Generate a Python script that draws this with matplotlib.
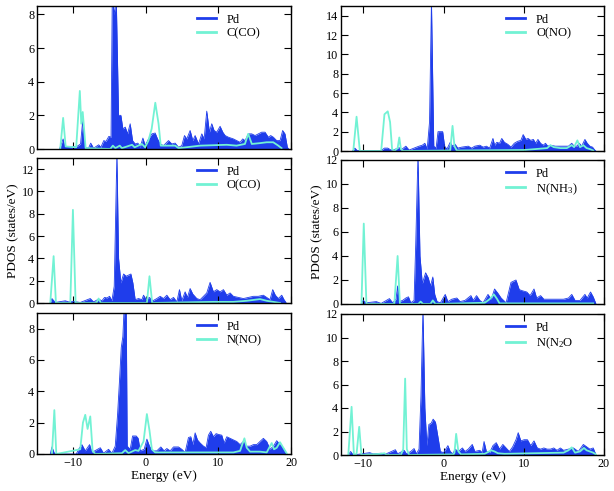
import matplotlib
matplotlib.use('Agg')
import matplotlib.pyplot as plt
import numpy as np

plt.rcParams['font.family'] = ['Liberation Serif', 'DejaVu Serif']
plt.rcParams['mathtext.default'] = 'regular'

# ---- panel data: energy (eV) / PDOS (states/eV) ----
# top-left: Pd + C(CO)
pd_e_1 = [-11.9, -11.4, -11.2, -9.5, -9.0, -8.7, -8.4, -7.9, -7.6, -7.2, -6.5, -6.2, -5.8, -5.5, -5.1,
          -4.8, -4.63, -4.36, -4.08, -3.76, -3.44, -3.17, -2.84, -2.52, -2.16, -1.83, -1.47, -1.1, -0.78,
          -0.41, -0.09, 0.37, 0.83, 1.28, 1.61, 1.97, 2.43, 3.12, 3.58, 4.04, 4.5, 4.95, 5.32, 5.64, 6.1,
          6.47, 6.79, 7.25, 7.71, 8.03, 8.39, 8.76, 9.08, 9.4, 9.77, 10.23, 10.6, 10.92, 11.38, 12.06,
          12.52, 12.98, 13.35, 13.67, 14.13, 14.59, 15.05, 15.5, 15.96, 16.42, 16.88, 17.2, 17.57, 18.03,
          18.49, 18.85, 19.17, 19.5, 19.68]
pd_v_1 = [0, 0.6, 0.15, 0.15, 0.3, 1.7, 0.1, 0.05, 0.35, 0.05, 0.25, 0.1, 0.5, 0.45, 0.75,
          0.7, 9.0, 8.0, 9.0, 2.0, 2.0, 1.2, 1.3, 0.9, 1.5, 0.5, 0.3, 0.35, 0.1,
          0.65, 0.2, 0.6, 0.9, 0.95, 0.6, 0.3, 0.2, 0.5, 0.3, 0.35, 0.1, 0.2, 0.8, 0.6, 1.1,
          0.5, 0.8, 0.3, 0.9, 0.6, 2.25, 1.0, 1.5, 1.1, 1.0, 1.35, 1.0, 0.8, 0.7, 0.6,
          0.5, 0.4, 0.6, 0.5, 0.9, 0.9, 0.8, 0.9, 1.0, 1.0, 0.7, 0.8, 0.7, 0.5,
          0.5, 1.1, 0.9, 0.1, 0]
lg_e_1 = [-11.8, -11.4, -11.05, -9.6, -9.1, -8.9, -8.7, -8.3, -4.9, -4.55, -4.2, -3.6, -3.3, -1.9,
          -1.55, -0.55, -0.1, 0.35, 0.8, 1.3, 1.75, 2.05, 2.45, 4.05, 4.5, 7.5, 11.15, 12.5, 13.65,
          14.1, 14.6, 15.75, 16.65, 17.55, 18.25, 18.7]
lg_v_1 = [0, 1.85, 0.15, 0.1, 3.45, 1.5, 2.2, 0.05, 0.0, 0.2, 0.05, 0.2, 0.05, 0.25,
          0.1, 0.3, 0.1, 0.5, 1.2, 2.75, 1.5, 0.2, 0.2, 0.2, 0.05, 0.2, 0.25, 0.2, 0.3,
          0.9, 0.3, 0.35, 0.4, 0.4, 0.2, 0.05]

# top-right: Pd + O(NO)
pd_e_2 = [-11.35, -11.07, -10.78, -7.79, -7.38, -6.97, -6.56, -6.15, -5.53, -5.33, -4.71, -4.3, -3.69,
          -3.07, -2.66, -2.34, -2.05, -1.76, -1.52, -1.23, -0.94, -0.7, -0.12, 0.12, 0.41, 0.82, 1.11,
          1.43, 1.76, 2.25, 3.07, 3.48, 3.89, 4.51, 4.92, 5.33, 5.74, 6.15, 6.35, 6.64, 6.97, 7.25,
          7.58, 7.99, 8.4, 8.81, 9.22, 9.63, 9.92, 10.25, 10.53, 10.86, 11.19, 11.48, 11.76, 12.09,
          12.42, 12.7, 12.99, 13.32, 13.93, 14.55, 15.16, 15.57, 15.98, 16.27, 16.6, 16.93, 17.21,
          17.62, 17.91, 18.24, 18.57, 18.85, 18.98]
pd_v_2 = [0, 0.3, 0.05, 0.05, 0.3, 0.3, 0.1, 0.15, 0.35, 0.1, 0.5, 0.1, 0.3,
          0.5, 0.6, 0.8, 0.2, 3.0, 15.5, 0.5, 0.3, 2.0, 2.0, 0.5, 0.2, 0.9, 0.5,
          0.7, 0.3, 0.4, 0.5, 0.3, 0.5, 0.6, 0.4, 0.5, 0.3, 1.3, 0.6, 0.9, 0.8, 1.3,
          0.9, 0.7, 0.4, 0.8, 1.0, 1.1, 1.7, 1.2, 1.3, 1.1, 1.2, 0.8, 1.2, 0.8,
          0.6, 0.8, 0.5, 0.6, 0.5, 0.5, 0.5, 0.5, 0.8, 0.5, 0.5, 0.8, 0.5,
          1.2, 0.8, 0.5, 0.4, 0.1, 0]
lg_e_2 = [-11.27, -10.86, -10.45, -7.79, -7.38, -6.97, -6.68, -6.43, -6.15, -5.74, -5.53, -5.33, -5.04,
          0.82, 1.11, 1.35, 1.64, 10.04, 12.91, 13.32, 13.73, 14.55, 15.37, 15.98, 16.27, 16.68,
          17.01, 17.42, 17.83, 18.24, 18.65]
lg_v_2 = [0, 3.55, 0, 0, 3.8, 4.1, 3.0, 0.2, 0, 0.3, 1.4, 0.2, 0,
          0.05, 2.6, 0.5, 0.05, 0.1, 0.3, 0.6, 0.4, 0.3, 0.3, 0.6, 0.4, 1.1,
          0.4, 0.6, 0.3, 0.2, 0.05]

# middle-left: Pd + O(CO)
pd_e_3 = [-13.17, -12.94, -12.48, -11.1, -10.64, -10.05, -9.04, -7.66, -7.2, -6.51, -6.06, -5.69,
          -5.37, -5.0, -4.68, -4.36, -4.22, -3.99, -3.76, -3.44, -3.07, -2.71, -2.39, -2.06, -1.79,
          -1.47, -1.01, -0.55, -0.32, 0.05, 0.5, 0.96, 1.51, 1.97, 2.43, 2.89, 3.35, 3.81, 4.27, 4.63,
          4.95, 5.41, 5.73, 6.1, 6.47, 7.02, 7.48, 7.94, 8.39, 8.85, 9.31, 9.77, 10.23, 10.69, 11.15,
          11.61, 12.06, 12.75, 13.44, 14.13, 14.82, 15.5, 16.19, 16.65, 17.11, 17.48, 17.84, 18.26,
          18.72, 19.04, 19.31]
pd_v_3 = [0, 0.4, 0.05, 0.2, 0.1, 0.15, 0.05, 0.4, 0.1, 0.35, 0.2, 0.5,
          0.45, 0.6, 0.2, 1.5, 6.0, 13.5, 4.0, 1.8, 2.6, 2.4, 2.5, 2.6, 1.8,
          0.3, 0.4, 0.3, 0.7, 0.3, 0.5, 0.2, 0.4, 0.6, 0.4, 0.7, 0.3, 0.5, 0.1, 1.2,
          0.2, 1.0, 0.5, 1.3, 0.8, 0.4, 0.3, 0.6, 0.9, 1.85, 1.0, 1.2, 1.0, 1.2, 0.7,
          0.9, 0.6, 0.5, 0.4, 0.5, 0.6, 0.6, 0.7, 0.5, 0.3, 1.2, 0.7, 0.4,
          0.7, 0.3, 0.05]
lg_e_3 = [-13.17, -12.71, -12.39, -10.41, -10.05, -9.68, -6.83, -6.51, -6.19, 0.14, 0.5, 0.87,
          9.31, 12.06, 13.9, 15.73, 16.65, 17.57, 18.49]
lg_v_3 = [0, 4.2, 0, 0, 8.35, 0, 0, 0.4, 0, 0, 2.4, 0,
          0.1, 0.1, 0.2, 0.35, 0.2, 0.1, 0.0]

# middle-right: Pd + N(NH3)
pd_e_4 = [-10.25, -10.04, -9.63, -9.02, -8.4, -7.79, -6.76, -6.35, -5.94, -5.74, -5.53, -5.12, -4.71,
          -4.39, -4.1, -3.69, -3.48, -3.2, -2.95, -2.66, -2.25, -1.93, -1.64, -1.35, -1.11, -0.82,
          -0.41, 0.2, 0.53, 1.02, 1.64, 2.05, 2.66, 3.4, 3.69, 4.1, 4.51, 4.92, 5.53, 5.94, 6.35,
          6.76, 7.17, 7.79, 8.4, 9.02, 9.43, 9.84, 10.37, 10.78, 11.27, 11.6, 12.09, 12.5, 13.32,
          14.14, 14.96, 15.57, 15.98, 16.39, 17.01, 17.62, 17.91, 18.32, 18.65, 18.98]
pd_v_4 = [0, 0.3, 0.1, 0.15, 0.2, 0.05, 0.45, 0.1, 0.4, 1.5, 0.2, 0.3, 0.5,
          0.6, 0.1, 0.3, 5.0, 12.5, 4.0, 1.7, 2.6, 2.2, 1.5, 2.25, 0.8, 0.2,
          0.1, 0.8, 0.2, 0.4, 0.5, 0.2, 0.3, 0.7, 0.3, 0.7, 0.3, 0.1, 0.8, 0.4, 1.25,
          0.9, 0.5, 0.1, 1.8, 2.0, 1.2, 1.1, 1.0, 0.7, 1.25, 0.5, 0.7, 0.4, 0.4,
          0.4, 0.4, 0.5, 0.8, 0.3, 0.3, 0.8, 0.5, 1.0, 0.6, 0.05]
lg_e_4 = [-10.25, -9.96, -9.63, -6.15, -5.74, -5.45, -3.16, -2.87, -2.58, -1.64, -1.35, -1.02,
          5.12, 5.74, 6.27, 6.68, 6.97, 18.65]
lg_v_4 = [0, 6.7, 0, 0, 4.0, 0, 0, 0.2, 0, 0, 0.3, 0,
          0.1, 0.4, 0.8, 0.4, 0.05, 0.05]

# bottom-left: Pd + N(NO)
pd_e_5 = [-13.17, -12.94, -12.57, -9.59, -9.27, -8.81, -8.35, -7.75, -7.43, -6.28, -5.83, -5.14,
          -4.68, -4.22, -3.9, -3.62, -3.39, -3.17, -2.98, -2.71, -2.57, -2.16, -1.83, -1.33, -1.06,
          -0.78, -0.23, 0.14, 0.5, 0.96, 1.51, 2.06, 2.52, 2.89, 3.35, 3.81, 4.5, 4.95, 5.41, 5.87,
          6.19, 6.47, 6.79, 7.11, 7.48, 7.94, 8.3, 8.62, 8.94, 9.31, 9.68, 10.0, 10.46, 10.78, 11.15,
          11.61, 12.06, 12.52, 12.98, 13.44, 13.9, 14.36, 14.82, 15.28, 15.73, 16.19, 16.65, 17.11,
          17.57, 18.03, 18.49, 18.94, 19.31]
pd_v_5 = [0, 0.45, 0, 0, 0.3, 0.6, 0.2, 0.6, 0.1, 0.4, 0.05, 0.3,
          0.05, 0.5, 2.5, 4.8, 6.8, 7.5, 9.5, 9.5, 0.5, 0.3, 1.15, 1.15, 1.0,
          0.2, 0.3, 0.95, 0.5, 0.2, 0.2, 0.45, 0.2, 0.35, 0.2, 0.45, 0.45, 0.3, 0.1, 1.05,
          1.1, 0.6, 1.35, 0.9, 0.7, 0.5, 0.4, 1.2, 1.45, 1.1, 1.3, 1.25, 1.2, 0.7, 1.1,
          1.0, 0.9, 0.8, 0.6, 0.8, 0.5, 0.5, 0.6, 0.6, 0.8, 1.0, 0.8, 0.3,
          0.5, 0.85, 0.6, 0.4, 0.05]
lg_e_5 = [-12.94, -12.61, -12.34, -9.04, -8.67, -8.35, -8.03, -7.66, -7.34, -6.97, -3.3, -2.84,
          -2.39, -1.47, -1.01, -0.32, 0.14, 0.5, 0.83, 1.28, 12.06, 12.98, 13.58, 13.9, 14.36,
          15.73, 16.65, 17.34, 17.66, 18.03, 18.49, 18.94, 19.4]
lg_v_5 = [0, 2.8, 0, 0.3, 2.0, 2.5, 1.6, 2.4, 0.2, 0, 0.05, 0.25,
          0.05, 0.25, 0.2, 0.8, 2.55, 1.5, 0.3, 0.1, 0.1, 0.2, 1.0, 0.4, 0.15,
          0.15, 0.1, 0.7, 0.3, 0.4, 0.75, 0.4, 0.05]

# bottom-right: Pd + N(N2O)
pd_e_6 = [-11.89, -11.6, -11.27, -9.22, -8.81, -7.79, -7.17, -6.02, -5.74, -4.92, -4.63, -4.1, -3.69,
          -3.4, -3.07, -2.83, -2.58, -2.34, -2.09, -1.84, -1.56, -1.31, -1.02, -0.7, -0.41, 0.0, 0.53,
          0.82, 1.15, 1.43, 1.84, 2.34, 2.66, 3.07, 3.57, 3.89, 4.51, 4.8, 5.04, 5.33, 5.74, 6.15,
          6.56, 6.97, 7.38, 7.79, 8.2, 8.61, 9.02, 9.3, 9.63, 10.04, 10.45, 10.86, 11.27, 11.68,
          12.09, 12.5, 12.91, 13.32, 13.73, 14.14, 14.55, 14.96, 15.57, 16.19, 16.8, 17.42, 17.83,
          18.24, 18.65, 18.98]
pd_v_6 = [0, 0.3, 0, 0.2, 0.1, 0.15, 0.1, 0.45, 0.1, 0.4, 0.1, 0.3, 0.55,
          0.1, 0.5, 5.0, 12.5, 4.0, 0.8, 2.6, 2.7, 3.05, 2.8, 1.5, 0.3, 0.2, 0.8,
          0.3, 0.1, 0.5, 0.3, 0.6, 0.3, 0.5, 0.9, 0.3, 0.4, 0.2, 1.15, 0.3, 0.2, 0.8,
          1.05, 0.5, 0.9, 0.6, 0.3, 0.7, 1.3, 1.9, 1.2, 1.3, 1.3, 0.8, 1.2, 0.6,
          0.5, 0.6, 0.5, 0.5, 0.6, 0.4, 0.6, 0.4, 0.5, 0.6, 0.3, 0.9, 0.7,
          0.5, 0.6, 0.05]
lg_e_6 = [-11.89, -11.48, -11.19, -10.86, -10.53, -10.25, -7.79, -7.38, -7.09, -5.33, -5.04, -4.8,
          -4.59, -4.3, 1.23, 1.35, 1.56, 1.84, 2.17, 5.12, 5.94, 6.35, 6.76, 7.58, 14.96, 15.57,
          15.98, 16.39, 17.01, 17.5, 17.83, 18.24, 18.65, 18.98]
lg_v_6 = [0, 4.1, 0, 0.1, 2.4, 0, 0.1, 0.15, 0, 0, 0.5, 6.5,
          0.5, 0, 0.05, 0.2, 1.8, 0.3, 0.05, 0.1, 0.4, 0.3, 0.15, 0.1, 0.2, 0.4,
          0.65, 0.2, 0.3, 0.6, 0.4, 0.3, 0.2, 0.05]

labels = ['C(CO)', 'O(NO)', 'O(CO)', 'N(NH$_3$)', 'N(NO)', 'N(N$_2$O']
ylims = [8.5, 15, 13, 12, 9, 12]
yticks = [[0, 2, 4, 6, 8], [0, 2, 4, 6, 8, 10, 12, 14], [0, 2, 4, 6, 8, 10, 12],
          [0, 2, 4, 6, 8, 10, 12], [0, 2, 4, 6, 8], [0, 2, 4, 6, 8, 10, 12]]

pd_e = [pd_e_1, pd_e_2, pd_e_3, pd_e_4, pd_e_5, pd_e_6]
pd_v = [pd_v_1, pd_v_2, pd_v_3, pd_v_4, pd_v_5, pd_v_6]
lg_e = [lg_e_1, lg_e_2, lg_e_3, lg_e_4, lg_e_5, lg_e_6]
lg_v = [lg_v_1, lg_v_2, lg_v_3, lg_v_4, lg_v_5, lg_v_6]

BLUE = '#1f3deb'
CYAN = '#72f2d4'

W, H = 614, 491
fig = plt.figure(figsize=(W / 100, H / 100), dpi=100)

# axes boxes in pixels: (left, top, right, bottom)
boxes = [(37, 6, 291, 149), (341, 6, 604, 151),
         (37, 158, 291, 303), (341, 160, 604, 304),
         (37, 313, 291, 454), (341, 314, 604, 455)]
xlims = [(-15, 20), (-12.8, 20)]

for i in range(6):
    r, c = i // 2, i % 2
    lft, top, rgt, bot = boxes[i]
    ax = fig.add_axes([lft / W, 1 - bot / H, (rgt - lft) / W, (bot - top) / H])

    ax.fill_between(pd_e[i], 0, pd_v[i], color=BLUE, lw=0)
    ax.plot(pd_e[i], pd_v[i], color=BLUE, lw=0.6, label='Pd')
    ax.plot(lg_e[i], lg_v[i], color=CYAN, lw=1.3, label=labels[i])

    ax.set_xlim(*xlims[c])
    ax.set_ylim(0, ylims[i])
    ax.set_yticks(yticks[i])
    ax.set_xticks([-10, 0, 10, 20])
    ax.tick_params(direction='in', top=True, right=True, length=5, width=0.8,
                   labelsize=8.7, pad=2)
    for sp in ax.spines.values():
        sp.set_linewidth(1.0)

    if r < 2:
        ax.tick_params(labelbottom=False)
    else:
        ax.set_xlabel('Energy (eV)', fontsize=9.5, labelpad=1)
    if r == 1:
        ax.set_ylabel('PDOS (states/eV)', fontsize=9.5, labelpad=2)

    leg = ax.legend(loc='upper left', bbox_to_anchor=(0.585, 1.025), frameon=False,
                    fontsize=9, handlelength=1.5, labelspacing=0.12, handletextpad=0.9)
    for hd in leg.get_lines():
        hd.set_linewidth(2.0)

fig.savefig('out.png', dpi=100)
